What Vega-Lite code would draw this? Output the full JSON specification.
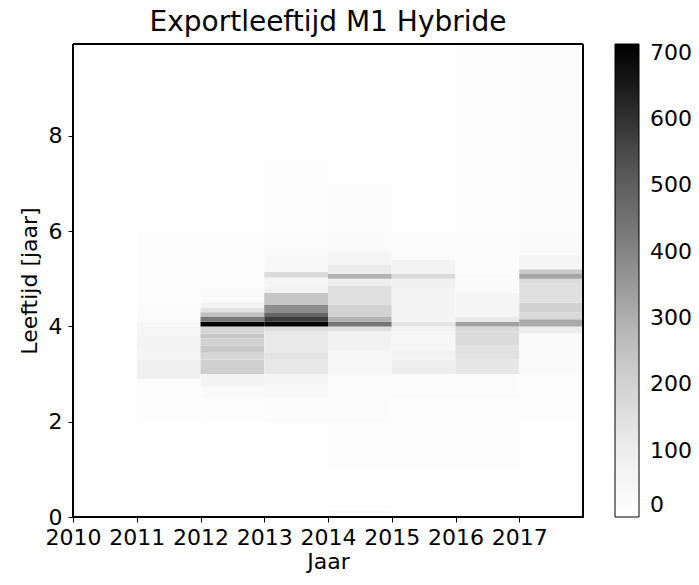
{
  "$schema": "https://vega.github.io/schema/vega-lite/v6.json",
  "width": 510,
  "height": 473,
  "autosize": "none",
  "padding": {"left": 73, "top": 44, "right": 116, "bottom": 68},
  "background": "white",
  "title": {"text": "Exportleeftijd M1 Hybride", "fontSize": 28, "font": "DejaVu Sans", "fontWeight": "normal", "color": "#000", "offset": 7, "anchor": "middle"},
  "config": {
    "view": {"stroke": "#000", "strokeWidth": 1},
    "axis": {"grid": false, "tickSize": 5, "tickColor": "#000", "domainColor": "#000", "labelFontSize": 22, "labelFont": "DejaVu Sans", "labelColor": "#000", "titleFontSize": 22, "titleFont": "DejaVu Sans", "titleFontWeight": "normal", "titleColor": "#000", "labelPadding": 5, "labelOverlap": false, "labelFlush": false}
  },
  "data": {"values": [
    {"j":2010,"k":2011,"a":0,"b":0.5,"n":3},{"j":2010,"k":2011,"a":0.5,"b":2,"n":6},{"j":2010,"k":2011,"a":2,"b":4,"n":4},{"j":2010,"k":2011,"a":4,"b":5,"n":2},{"j":2010,"k":2011,"a":5,"b":9.93,"n":0},
    {"j":2011,"k":2012,"a":0,"b":0.5,"n":3},{"j":2011,"k":2012,"a":0.5,"b":2,"n":8},{"j":2011,"k":2012,"a":2,"b":2.9,"n":14},{"j":2011,"k":2012,"a":2.9,"b":3.3,"n":90},{"j":2011,"k":2012,"a":3.3,"b":3.5,"n":65},{"j":2011,"k":2012,"a":3.5,"b":3.8,"n":70},{"j":2011,"k":2012,"a":3.8,"b":4.0,"n":55},{"j":2011,"k":2012,"a":4.0,"b":4.1,"n":45},{"j":2011,"k":2012,"a":4.1,"b":4.4,"n":25},{"j":2011,"k":2012,"a":4.4,"b":6,"n":10},{"j":2011,"k":2012,"a":6,"b":9.93,"n":2},
    {"j":2012,"k":2013,"a":0,"b":2,"n":5},{"j":2012,"k":2013,"a":2,"b":2.5,"n":12},{"j":2012,"k":2013,"a":2.5,"b":2.75,"n":30},{"j":2012,"k":2013,"a":2.75,"b":3.0,"n":65},{"j":2012,"k":2013,"a":3.0,"b":3.3,"n":210},{"j":2012,"k":2013,"a":3.3,"b":3.45,"n":185},{"j":2012,"k":2013,"a":3.45,"b":3.6,"n":230},{"j":2012,"k":2013,"a":3.6,"b":3.75,"n":200},{"j":2012,"k":2013,"a":3.75,"b":3.85,"n":235},{"j":2012,"k":2013,"a":3.85,"b":4.0,"n":190},{"j":2012,"k":2013,"a":4.0,"b":4.1,"n":713},{"j":2012,"k":2013,"a":4.1,"b":4.2,"n":430},{"j":2012,"k":2013,"a":4.2,"b":4.3,"n":260},{"j":2012,"k":2013,"a":4.3,"b":4.4,"n":140},{"j":2012,"k":2013,"a":4.4,"b":4.5,"n":70},{"j":2012,"k":2013,"a":4.5,"b":4.8,"n":30},{"j":2012,"k":2013,"a":4.8,"b":6,"n":10},{"j":2012,"k":2013,"a":6,"b":9.93,"n":3},
    {"j":2013,"k":2014,"a":0,"b":1,"n":5},{"j":2013,"k":2014,"a":1,"b":2,"n":8},{"j":2013,"k":2014,"a":2,"b":2.5,"n":15},{"j":2013,"k":2014,"a":2.5,"b":2.8,"n":35},{"j":2013,"k":2014,"a":2.8,"b":3.0,"n":60},{"j":2013,"k":2014,"a":3.0,"b":3.3,"n":120},{"j":2013,"k":2014,"a":3.3,"b":3.45,"n":140},{"j":2013,"k":2014,"a":3.45,"b":3.9,"n":115},{"j":2013,"k":2014,"a":3.9,"b":4.0,"n":160},{"j":2013,"k":2014,"a":4.0,"b":4.1,"n":700},{"j":2013,"k":2014,"a":4.1,"b":4.2,"n":580},{"j":2013,"k":2014,"a":4.2,"b":4.3,"n":480},{"j":2013,"k":2014,"a":4.3,"b":4.45,"n":380},{"j":2013,"k":2014,"a":4.45,"b":4.7,"n":240},{"j":2013,"k":2014,"a":4.7,"b":4.86,"n":80},{"j":2013,"k":2014,"a":4.86,"b":5.03,"n":60},{"j":2013,"k":2014,"a":5.03,"b":5.15,"n":170},{"j":2013,"k":2014,"a":5.15,"b":5.5,"n":40},{"j":2013,"k":2014,"a":5.5,"b":6,"n":22},{"j":2013,"k":2014,"a":6,"b":7.5,"n":12},{"j":2013,"k":2014,"a":7.5,"b":9.93,"n":5},
    {"j":2014,"k":2015,"a":0,"b":0.05,"n":8},{"j":2014,"k":2015,"a":0.05,"b":0.15,"n":35},{"j":2014,"k":2015,"a":0.15,"b":1,"n":6},{"j":2014,"k":2015,"a":1,"b":2,"n":10},{"j":2014,"k":2015,"a":2,"b":3,"n":25},{"j":2014,"k":2015,"a":3,"b":3.5,"n":55},{"j":2014,"k":2015,"a":3.5,"b":3.9,"n":75},{"j":2014,"k":2015,"a":3.9,"b":4.0,"n":150},{"j":2014,"k":2015,"a":4.0,"b":4.1,"n":440},{"j":2014,"k":2015,"a":4.1,"b":4.2,"n":290},{"j":2014,"k":2015,"a":4.2,"b":4.45,"n":200},{"j":2014,"k":2015,"a":4.45,"b":4.85,"n":150},{"j":2014,"k":2015,"a":4.85,"b":5.0,"n":100},{"j":2014,"k":2015,"a":5.0,"b":5.1,"n":290},{"j":2014,"k":2015,"a":5.1,"b":5.3,"n":110},{"j":2014,"k":2015,"a":5.3,"b":5.6,"n":60},{"j":2014,"k":2015,"a":5.6,"b":6.0,"n":30},{"j":2014,"k":2015,"a":6,"b":7,"n":15},{"j":2014,"k":2015,"a":7,"b":9.93,"n":8},
    {"j":2015,"k":2016,"a":0,"b":1,"n":6},{"j":2015,"k":2016,"a":1,"b":2.5,"n":10},{"j":2015,"k":2016,"a":2.5,"b":3.0,"n":22},{"j":2015,"k":2016,"a":3.0,"b":3.3,"n":95},{"j":2015,"k":2016,"a":3.3,"b":3.5,"n":75},{"j":2015,"k":2016,"a":3.5,"b":3.9,"n":55},{"j":2015,"k":2016,"a":3.9,"b":4.0,"n":75},{"j":2015,"k":2016,"a":4.0,"b":4.1,"n":130},{"j":2015,"k":2016,"a":4.1,"b":4.8,"n":65},{"j":2015,"k":2016,"a":4.8,"b":5.0,"n":90},{"j":2015,"k":2016,"a":5.0,"b":5.1,"n":170},{"j":2015,"k":2016,"a":5.1,"b":5.4,"n":70},{"j":2015,"k":2016,"a":5.4,"b":6,"n":25},{"j":2015,"k":2016,"a":6,"b":9.93,"n":8},
    {"j":2016,"k":2017,"a":0,"b":1,"n":6},{"j":2016,"k":2017,"a":1,"b":2.5,"n":10},{"j":2016,"k":2017,"a":2.5,"b":3.0,"n":25},{"j":2016,"k":2017,"a":3.0,"b":3.3,"n":125},{"j":2016,"k":2017,"a":3.3,"b":3.6,"n":145},{"j":2016,"k":2017,"a":3.6,"b":3.9,"n":170},{"j":2016,"k":2017,"a":3.9,"b":4.0,"n":180},{"j":2016,"k":2017,"a":4.0,"b":4.1,"n":330},{"j":2016,"k":2017,"a":4.1,"b":4.2,"n":120},{"j":2016,"k":2017,"a":4.2,"b":4.7,"n":60},{"j":2016,"k":2017,"a":4.7,"b":5.1,"n":30},{"j":2016,"k":2017,"a":5.1,"b":6,"n":15},{"j":2016,"k":2017,"a":6,"b":9.93,"n":9},
    {"j":2017,"k":2018,"a":0,"b":2,"n":8},{"j":2017,"k":2018,"a":2,"b":3,"n":12},{"j":2017,"k":2018,"a":3,"b":3.85,"n":30},{"j":2017,"k":2018,"a":3.85,"b":4.0,"n":100},{"j":2017,"k":2018,"a":4.0,"b":4.15,"n":310},{"j":2017,"k":2018,"a":4.15,"b":4.3,"n":180},{"j":2017,"k":2018,"a":4.3,"b":4.5,"n":200},{"j":2017,"k":2018,"a":4.5,"b":4.9,"n":150},{"j":2017,"k":2018,"a":4.9,"b":5.0,"n":170},{"j":2017,"k":2018,"a":5.0,"b":5.1,"n":320},{"j":2017,"k":2018,"a":5.1,"b":5.2,"n":230},{"j":2017,"k":2018,"a":5.2,"b":5.5,"n":60},{"j":2017,"k":2018,"a":5.5,"b":6.0,"n":30},{"j":2017,"k":2018,"a":6,"b":7.3,"n":15},{"j":2017,"k":2018,"a":7.3,"b":9.93,"n":25}
  ]},
  "layer": [
    {
      "mark": {"type": "rect", "strokeWidth": 0},
      "encoding": {
        "x": {"field": "j", "type": "quantitative", "scale": {"domain": [2010, 2018], "nice": false, "zero": false}, "axis": {"title": "Jaar", "values": [2010, 2011, 2012, 2013, 2014, 2015, 2016, 2017], "format": "d", "titlePadding": 3}},
        "x2": {"field": "k"},
        "y": {"field": "a", "type": "quantitative", "scale": {"domain": [0, 9.93], "nice": false}, "axis": {"title": "Leeftijd [jaar]", "values": [0, 2, 4, 6, 8], "titlePadding": 7, "labelPadding": 6}},
        "y2": {"field": "b"},
        "color": {"field": "n", "type": "quantitative", "scale": {"domain": [0, 89.125, 178.25, 267.375, 356.5, 445.625, 534.75, 623.875, 713], "range": ["#ffffff", "#f0f0f0", "#d9d9d9", "#bdbdbd", "#969696", "#737373", "#525252", "#252525", "#000000"], "interpolate": "rgb"}, "legend": {"orient": "none", "legendX": 542, "legendY": 0, "direction": "vertical", "gradientLength": 473, "gradientThickness": 24, "title": null, "values": [0, 100, 200, 300, 400, 500, 600, 700], "labelFontSize": 22, "labelFont": "DejaVu Sans", "labelColor": "#000", "labelOffset": 11, "labelOverlap": false, "gradientStrokeColor": "#000", "gradientStrokeWidth": 1}}
      }
    },
    {
      "mark": {"type": "rect", "fill": null, "filled": false, "stroke": "#000", "strokeWidth": 1},
      "encoding": {
        "x": {"datum": 2010, "type": "quantitative"},
        "x2": {"datum": 2018},
        "y": {"datum": 0, "type": "quantitative"},
        "y2": {"datum": 9.93}
      }
    }
  ]
}
